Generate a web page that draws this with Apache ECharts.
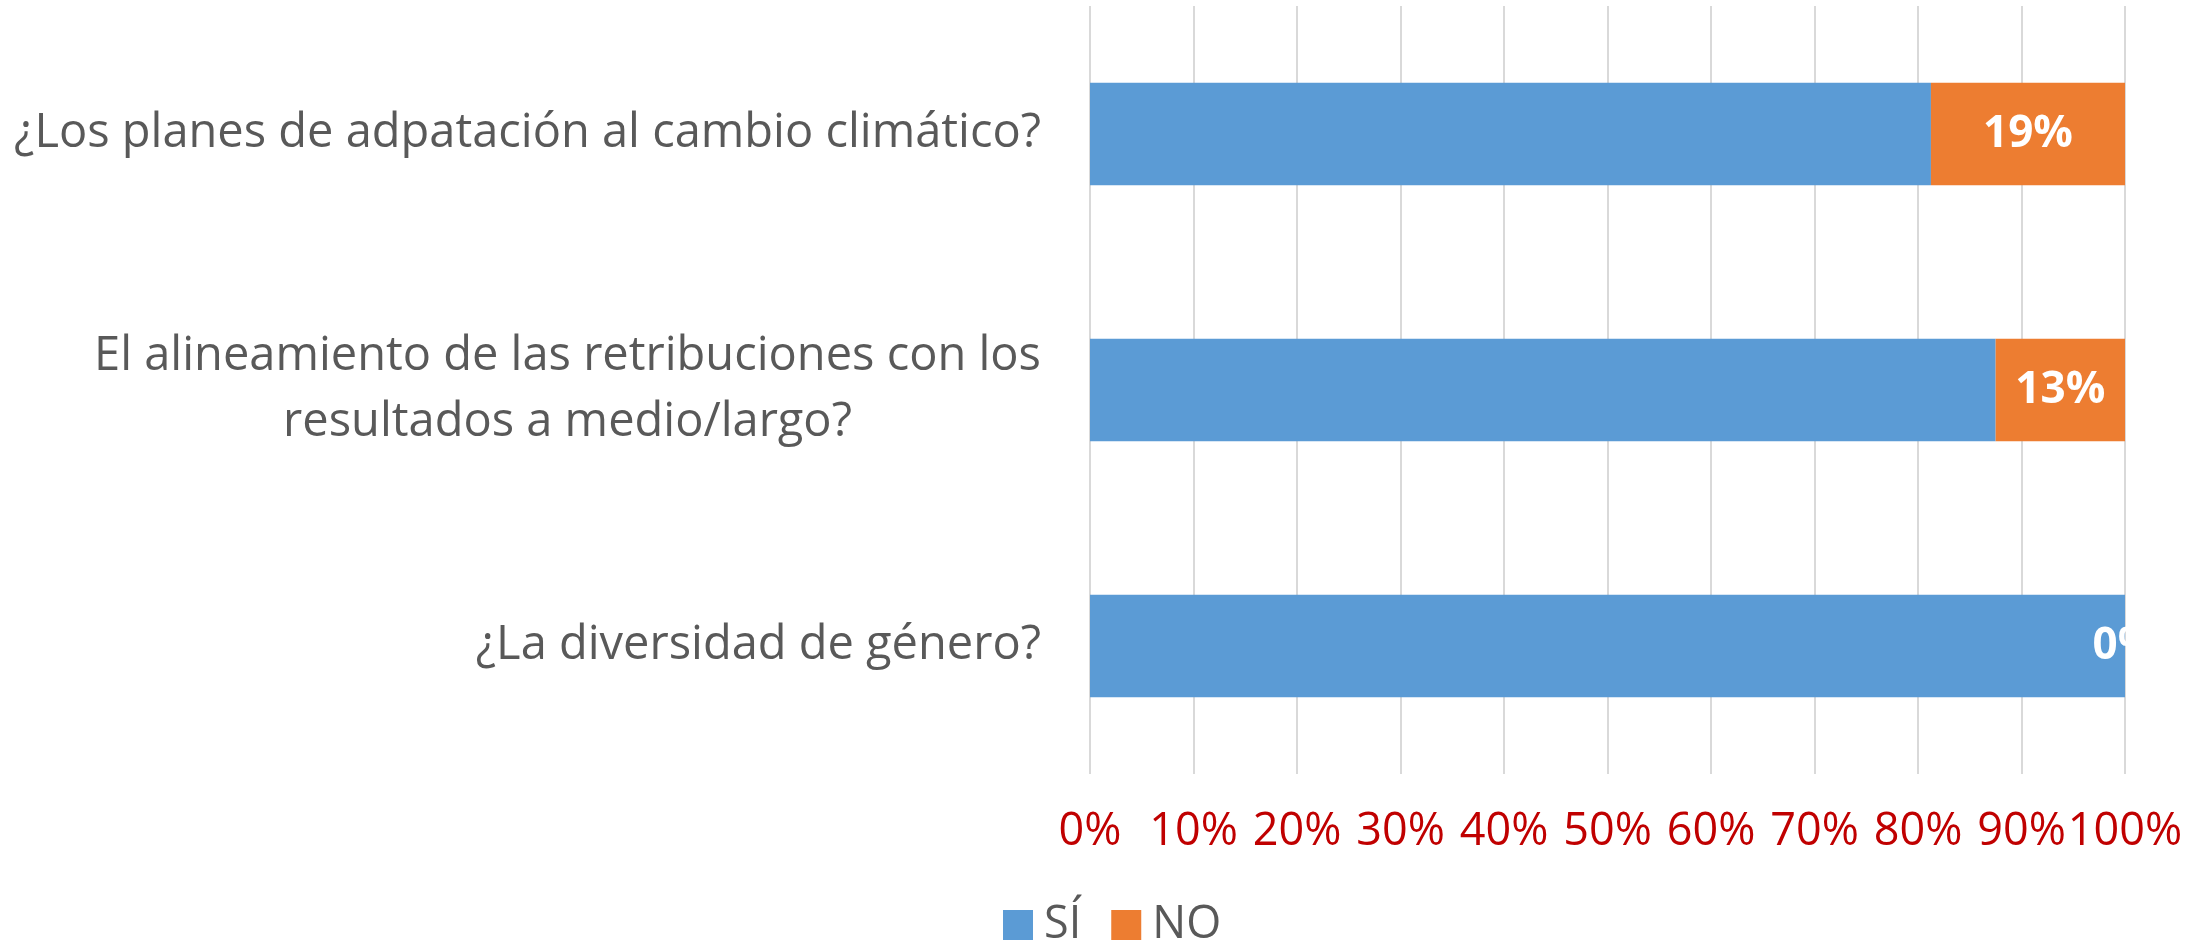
<!DOCTYPE html>
<html>
<head>
<meta charset="utf-8">
<script src="https://cdn.jsdelivr.net/npm/echarts@6/dist/echarts.min.js"></script>
<style>
html,body{margin:0;padding:0;background:#fff;}
#chart{width:2206px;height:941px;}
</style>
</head>
<body>
<div id="chart"></div>
<script>
const categories = [
  '¿Los planes de adpatación al cambio climático?',
  'El alineamiento de las retribuciones con los\nresultados a medio/largo?',
  '¿La diversidad de género?'
];
const seriesNames = ['SÍ', 'NO'];
const siValues = [81.25, 87.5, 100];
const noValues = [18.75, 12.5, 0];
const tickValues = [0, 10, 20, 30, 40, 50, 60, 70, 80, 90, 100];

const FONT = 'Open Sans';
const chart = echarts.init(document.getElementById('chart'));
chart.setOption({
  animation: false,
  grid: { left: 1090, right: 81, top: 6, bottom: 167, containLabel: false },
  legend: {
    data: seriesNames,
    left: 998, top: 895,
    icon: 'rect', itemWidth: 30, itemHeight: 30, itemGap: 30,
    textStyle: { fontFamily: FONT, fontSize: 45, color: '#595959', lineHeight: 50, padding: [0, 0, 0, 6] }
  },
  xAxis: {
    type: 'value', min: tickValues[0], max: tickValues[tickValues.length - 1], interval: 10,
    axisLine: { show: false }, axisTick: { show: false },
    splitLine: { show: true, lineStyle: { color: '#D9D9D9', width: 2 } },
    axisLabel: {
      formatter: v => v + '%', color: '#C00000', fontFamily: FONT, fontSize: 45,
      margin: 36, hideOverlap: false, interval: 0
    }
  },
  yAxis: {
    type: 'category', data: categories, inverse: true,
    axisLine: { show: false }, axisTick: { show: false },
    axisLabel: {
      margin: 49, color: '#595959', fontFamily: FONT, fontSize: 47, lineHeight: 66,
      formatter: v => v.split('\n').map(l => '{c|' + l + '}').join('\n'),
      rich: { c: { align: 'center', fontFamily: FONT, fontSize: 47, lineHeight: 66, color: '#595959' } }
    }
  },
  series: [
    {
      name: seriesNames[0], type: 'bar', stack: 'total', data: siValues,
      barCategoryGap: '60%', itemStyle: { color: '#5B9BD5' }
    },
    {
      name: seriesNames[1], type: 'bar', stack: 'total', data: noValues,
      barCategoryGap: '60%', itemStyle: { color: '#ED7D31' },
      label: {
        show: true, position: 'inside', color: '#FFFFFF', fontFamily: FONT,
        fontWeight: 'bold', fontSize: 44,
        formatter: p => Math.round(p.value) + '%'
      }
    }
  ]
});
</script>
</body>
</html>
